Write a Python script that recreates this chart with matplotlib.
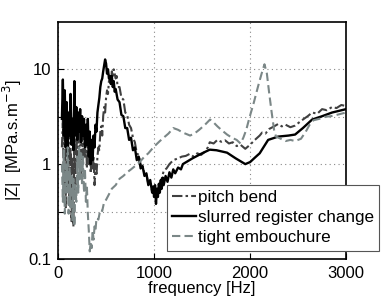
import matplotlib
matplotlib.use("Agg")
import matplotlib.pyplot as plt
import numpy as np

plt.rcParams['font.family'] = ['Liberation Sans', 'DejaVu Sans']

# slurred register change (solid black)
slurred_f = [40,50,60,70,80,90,100,110,120,130,140,150,160,170,180,190,200,210,220,230,240,250,260,270,280,290,300,
             310,320,330,340,350,360,370,380,390,400,410,420,430,440,450,460,470,480,490,500,510,520,530,540,550,
             560,570,580,590,600,620,640,660,680,700,720,740,760,780,800,820,840,860,880,900,920,940,960,980,990,
             1000,1010,1020,1030,1040,1050,1060,1070,1080,1090,1100,1120,1140,1160,1180,1200,1220,1250,1280,1300,
             1400,1500,1580,1650,1760,1850,1950,2000,2050,2100,2188,2292,2400,2469,2550,2646,2750,2854,3000]
slurred_z = [3.0,7.8,2.0,6.0,1.5,4.5,1.2,3.5,2.0,5.5,1.6,3.0,1.4,7.5,2.0,4.0,1.8,3.5,2.2,3.8,1.7,3.2,2.0,3.0,1.5,2.6,1.6,
             3.0,1.2,2.2,1.0,1.8,1.1,2.0,1.5,2.6,2.2,3.5,4.2,5.0,6.5,7.5,8.0,9.5,11.0,12.7,11.5,9.0,10.0,8.0,8.5,7.0,
             8.5,6.5,7.5,5.8,6.2,4.8,4.5,3.3,3.2,2.4,2.4,1.8,1.9,1.4,1.5,1.1,1.2,0.9,0.95,0.75,0.8,0.6,0.68,0.5,0.58,
             0.45,0.6,0.38,0.55,0.45,0.62,0.5,0.68,0.55,0.72,0.6,0.75,0.65,0.82,0.72,0.88,0.8,0.92,0.88,1.0,
             1.15,1.3,1.42,1.4,1.32,1.15,1.0,1.05,1.17,1.3,1.8,1.95,2.0,2.05,2.4,2.95,3.2,3.5,3.8]

# pitch bend (dash-dot, dark grey)
pitch_f = [40,50,60,70,80,90,100,110,120,130,140,150,160,170,180,190,200,210,220,230,240,250,260,270,280,290,300,
           310,320,330,340,350,360,370,380,390,400,410,420,430,440,450,460,470,480,490,500,510,520,530,540,550,
           560,570,580,590,600,610,620,640,660,680,700,720,740,760,780,800,820,840,860,880,900,920,940,960,980,
           1000,1020,1040,1060,1080,1100,1130,1160,1200,1250,1290,1330,1370,1410,1450,1490,1530,1560,1580,1620,
           1660,1700,1740,1780,1820,1860,1900,1950,2000,2050,2100,2125,2160,2200,2250,2292,2330,2370,2420,2469,
           2520,2560,2600,2646,2700,2750,2800,2854,2900,2950,3000]
pitch_z = [1.5,3.0,0.5,2.5,0.35,2.0,0.6,2.8,0.4,1.5,0.25,1.2,0.22,1.8,0.6,2.5,0.9,3.0,1.2,2.5,0.8,2.0,1.0,2.6,1.2,2.2,0.9,
           1.8,1.0,1.6,0.8,1.4,0.9,1.2,0.6,1.0,0.75,1.2,1.5,1.4,2.2,2.5,2.0,3.2,4.0,3.5,5.0,6.0,5.5,7.5,8.0,7.0,
           9.5,8.5,10.0,9.0,8.0,8.5,6.5,6.5,5.0,4.8,3.5,3.3,2.6,2.4,1.9,1.7,1.3,1.25,1.0,0.95,0.8,0.78,0.62,0.65,0.52,
           0.5,0.55,0.5,0.62,0.7,0.85,0.9,1.0,1.1,1.15,1.2,1.22,1.28,1.2,1.3,1.25,1.35,1.5,1.7,1.65,
           1.8,1.72,1.78,1.65,1.7,1.55,1.6,1.45,1.6,1.8,2.0,2.15,2.1,2.35,2.5,2.65,2.5,2.6,2.45,2.55,
           2.8,3.0,3.2,3.5,3.4,3.8,3.7,4.0,3.9,4.2,4.1]

# tight embouchure (dashed, light grey)
tight_f = [40,50,60,70,80,90,100,110,120,130,140,150,160,170,180,190,200,210,220,230,240,250,260,270,280,290,300,
           310,320,330,340,350,360,370,380,390,400,420,440,460,480,500,530,560,600,640,680,720,760,800,850,900,940,
           980,1020,1060,1100,1150,1200,1250,1300,1350,1375,1420,1470,1530,1583,1620,1660,1700,1760,1810,1860,1900,
           1930,1960,1990,2040,2083,2120,2150,2175,2200,2225,2250,2270,2320,2370,2420,2470,2530,2580,2620,2660,2720,
           2780,2840,2900,2950,3000]
tight_z = [1.0,0.4,1.4,0.3,1.0,0.5,1.5,0.3,0.9,0.35,0.8,0.25,0.7,0.22,0.6,0.4,1.2,0.5,1.5,0.7,1.3,0.6,1.2,0.5,0.9,0.4,0.6,
           0.3,0.2,0.12,0.15,0.13,0.2,0.16,0.22,0.2,0.27,0.26,0.33,0.32,0.4,0.42,0.48,0.55,0.6,0.7,0.75,0.82,0.88,0.95,1.05,1.2,1.3,
           1.45,1.6,1.75,1.9,2.1,2.4,2.3,2.15,2.05,2.0,2.1,2.3,2.6,2.95,2.75,2.5,2.3,2.05,1.9,1.8,1.65,
           1.9,2.3,3.0,4.5,6.6,9.0,11.3,9.0,5.5,3.5,2.3,1.95,1.85,1.75,1.8,1.75,1.85,2.2,2.6,2.9,3.0,
           3.15,3.2,3.3,3.4,3.5]

labels = ["pitch bend", "slurred register change", "tight embouchure"]

FS = 12

fig = plt.figure(figsize=(3.82, 3.0), dpi=100)
ax = fig.add_axes([0.152, 0.137, 0.754, 0.790])

l1, = ax.plot(pitch_f, pitch_z, color='#404040', lw=1.5, ls=(0, (5, 1.5, 1.2, 1.5)))
l2, = ax.plot(slurred_f, slurred_z, color='black', lw=1.7, ls='-')
l3, = ax.plot(tight_f, tight_z, color='#7b8787', lw=1.5, ls=(0, (4, 2)))

ax.set_yscale('log')
ax.set_xlim(0, 3000)
ax.set_ylim(0.1, 10**1.5)
ax.set_xticks([0, 1000, 2000, 3000])
ax.set_yticks([0.1, 10**-0.5, 1, 10**0.5, 10])
ax.set_yticklabels(['0.1', '', '1', '', '10'])
ax.yaxis.set_minor_locator(matplotlib.ticker.NullLocator())
ax.grid(True, which='major', color='#888888', ls=(0, (1, 3)), lw=0.8)
ax.tick_params(direction='in', labelsize=FS, length=4, width=0.8, pad=5)
for s in ax.spines.values():
    s.set_linewidth(1.2)

ax.set_xlabel('frequency [Hz]', fontsize=FS, labelpad=0)
ax.set_ylabel('|Z|  [MPa.s.m$^{-3}$]', fontsize=FS, labelpad=3)

leg = fig.legend([l1, l2, l3], labels, loc='upper left', bbox_to_anchor=(0.437, 0.383),
                 fontsize=12.3, frameon=True, fancybox=False, framealpha=1,
                 edgecolor='#555555', handlelength=1.4, handletextpad=0.1,
                 labelspacing=0.3, borderpad=0.3, borderaxespad=0)
leg.get_frame().set_linewidth(0.8)

fig.savefig('out.png', dpi=100)
